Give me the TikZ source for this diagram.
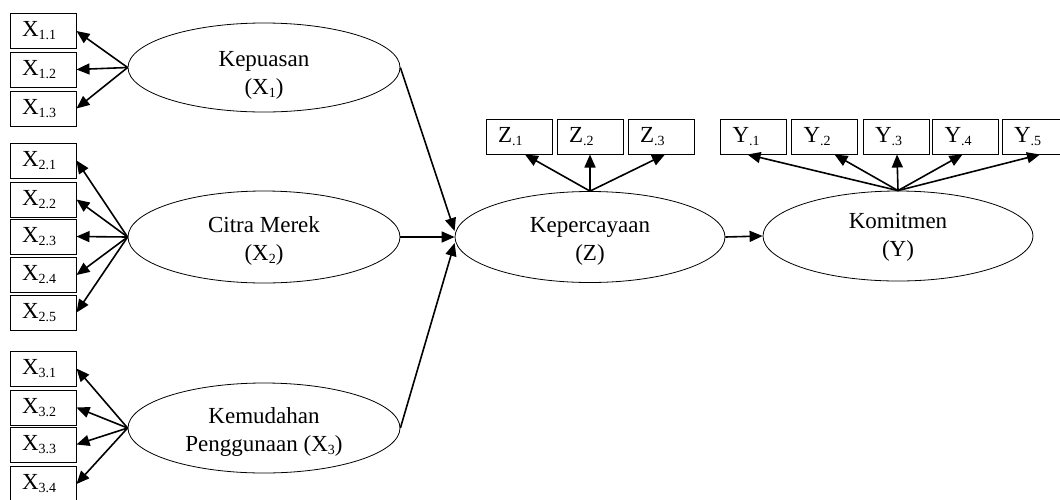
\documentclass[tikz,border=0pt]{standalone}
\usepackage{fontspec}
\setmainfont{Liberation Serif}
\usetikzlibrary{shapes.geometric,arrows.meta,calc}
\newcommand\sbs[1]{\raisebox{-3pt}{\fontsize{14}{14}\selectfont #1}}
\begin{document}
\begin{tikzpicture}[x=1pt,y=-1pt,
  ind/.style={draw,line width=1pt,minimum width=66pt,minimum height=35pt,inner xsep=12pt,inner ysep=0pt,text width=42pt,align=left,font=\fontsize{23}{27}\selectfont},
  lat/.style={draw,ellipse,line width=0.8pt,inner sep=0pt},
  lbl/.style={align=center,font=\fontsize{23}{28}\selectfont,inner sep=0pt},
  arr/.style={-{Triangle[length=13pt,width=11pt]},line width=1.6pt},
]
\useasboundingbox (0,0) rectangle (1060,499);
\clip (0,0) rectangle (1060,499);
% indicator boxes
\node[ind] (X11) at (43,31) {X\sbs{1.1}};
\node[ind] (X12) at (43,69.5) {X\sbs{1.2}};
\node[ind] (X13) at (43,108.5) {X\sbs{1.3}};
\node[ind] (X21) at (43,160.5) {X\sbs{2.1}};
\node[ind] (X22) at (43,199.5) {X\sbs{2.2}};
\node[ind] (X23) at (43,236.5) {X\sbs{2.3}};
\node[ind] (X24) at (43,275) {X\sbs{2.4}};
\node[ind] (X25) at (43,312.5) {X\sbs{2.5}};
\node[ind] (X31) at (43,368.5) {X\sbs{3.1}};
\node[ind] (X32) at (43,407.5) {X\sbs{3.2}};
\node[ind] (X33) at (43,444.5) {X\sbs{3.3}};
\node[ind] (X34) at (43,484) {X\sbs{3.4}};
\node[ind] (Z1) at (519,136.5) {Z\sbs{.1}};
\node[ind] (Z2) at (590,136.5) {Z\sbs{.2}};
\node[ind] (Z3) at (661,136.5) {Z\sbs{.3}};
\node[ind] (Y1) at (753.5,136.5) {Y\sbs{.1}};
\node[ind] (Y2) at (824.5,136.5) {Y\sbs{.2}};
\node[ind] (Y3) at (896,136.5) {Y\sbs{.3}};
\node[ind] (Y4) at (965.5,136.5) {Y\sbs{.4}};
\node[ind] (Y5) at (1035,136.5) {Y\sbs{.5}};
% latent variables
\node[lat,minimum width=272pt,minimum height=89pt,label={[lbl,yshift=-8pt]center:{Kepuasan\\(X\sbs{1})}}] (K) at (264,67.5) {};
\node[lat,minimum width=272pt,minimum height=92pt,label={[lbl,yshift=-4pt]center:{Citra Merek\\(X\sbs{2})}}] (C) at (264,237) {};
\node[lat,minimum width=272pt,minimum height=90pt,label={[lbl,yshift=-4pt]center:{Kemudahan\\Penggunaan (X\sbs{3})}}] (M) at (264,428) {};
\node[lat,minimum width=270pt,minimum height=91pt,label={[lbl,yshift=-4pt]center:{Kepercayaan\\(Z)}}] (Kp) at (590,237) {};
\node[lat,minimum width=270pt,minimum height=90pt,label={[lbl,yshift=-1pt]center:{Komitmen\\(Y)}}] (Km) at (898,236) {};
% loadings
\foreach \b in {X11,X12,X13} \draw[arr] (K.west) -- (\b.east);
\foreach \b in {X21,X22,X23,X24,X25} \draw[arr] (C.west) -- (\b.east);
\foreach \b in {X31,X32,X33,X34} \draw[arr] (M.west) -- (\b.east);
\draw[arr] (Kp.north) -- ($(Z1.south)+(6,0)$);
\draw[arr] (Kp.north) -- (Z2.south);
\draw[arr] (Kp.north) -- ($(Z3.south)+(4,0)$);
\draw[arr] (Km.north) -- ($(Y1.south)+(-6,0)$);
\draw[arr] (Km.north) -- ($(Y2.south)+(10,0)$);
\draw[arr] (Km.north) -- ($(Y3.south)+(1,0)$);
\draw[arr] (Km.north) -- ($(Y4.south)+(-3,0)$);
\draw[arr] (Km.north) -- ($(Y5.south)+(5,0)$);
% structural paths
\draw[arr] (K.east) -- ($(Kp.west)+(0,-6)$);
\draw[arr] (C.east) -- (Kp.west);
\draw[arr] (M.east) -- ($(Kp.west)+(0,6)$);
\draw[arr] (Kp.east) -- (Km.west);
\end{tikzpicture}
\end{document}
